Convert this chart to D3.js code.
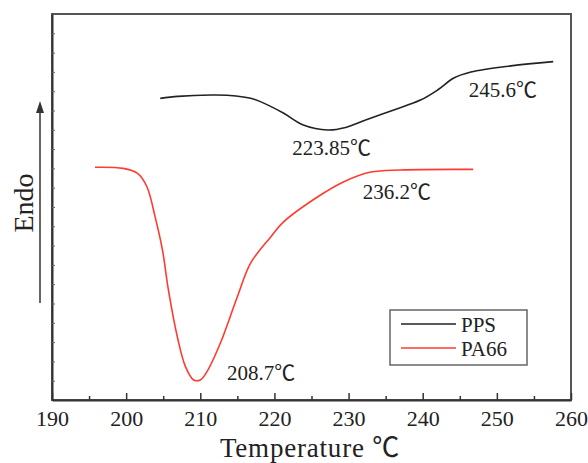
<!DOCTYPE html>
<html>
<head>
<meta charset="utf-8">
<script src="https://cdn.jsdelivr.net/npm/d3@7"></script>
<style>
  body { margin: 0; background: #fff; }
  text { font-family: "Liberation Serif", "Noto Sans CJK SC", serif; fill: #222; }
</style>
</head>
<body>
<div id="chart"></div>
<script>
var w = 588;
var h = 463;
var margin = {top: 14, right: 17, bottom: 63, left: 52};

// DSC traces (temperature in degC, heat flow in arbitrary units)
var ppsTemp = [204.6, 207.0, 211.4, 214.0, 216.8, 218.1, 221.2, 223.9, 227.2, 229.6, 232.3, 236.1, 239.7, 242.0, 244.2, 246.5, 251.9, 257.6];
var ppsFlow = [15.63, 15.73, 15.80, 15.78, 15.63, 15.46, 14.87, 14.25, 13.99, 14.12, 14.51, 15.03, 15.54, 16.06, 16.68, 16.99, 17.31, 17.53];

var pa66Temp = [195.8, 199.6, 201.5, 202.8, 203.9, 204.9, 205.7, 206.9, 208.0, 209.1, 210.0, 210.9, 212.7, 215.0, 216.8, 219.5, 221.2, 225.8, 229.3, 233.0, 237.0, 246.8];
var pa66Flow = [12.06, 12.00, 11.75, 11.05, 9.50, 7.77, 5.70, 3.28, 1.73, 1.04, 1.04, 1.47, 2.94, 5.35, 7.10, 8.45, 9.22, 10.52, 11.30, 11.81, 11.92, 11.95];

var seriesNames = ["PPS", "PA66"];
var seriesColors = ["#222222", "#ff3b30"];

// peak annotations
var noteText = ["223.85℃", "245.6℃", "236.2℃", "208.7℃"];
var noteTemp = [222.4, 246.2, 231.9, 213.6];
var noteFlow = [12.69, 15.70, 10.41, 1.04];

var xTicks = [190, 200, 210, 220, 230, 240, 250, 260];

var svg = d3.select("#chart")
            .append("svg")
            .attr("width", w)
            .attr("height", h);

var xScale = d3.scaleLinear()
        .domain([190, 260])
        .range([margin.left, w - margin.right]);

var yScale = d3.scaleLinear()
        .domain([0, 20])
        .range([h - margin.bottom, margin.top]);

// frame (top / right)
svg.append("rect")
    .attr("x", xScale(190))
    .attr("y", yScale(20))
    .attr("width", xScale(260) - xScale(190))
    .attr("height", yScale(0) - yScale(20))
    .attr("fill", "none")
    .attr("stroke", "#555")
    .attr("stroke-width", 2);

// minor x ticks
svg.append("g")
    .attr("transform", "translate(0," + yScale(0) + ")")
    .call(d3.axisBottom(xScale).tickValues(d3.range(195, 260, 10)).tickSize(-4).tickFormat(""))
    .call(function(g) { g.select(".domain").remove(); })
    .selectAll("line").attr("stroke", "#333").attr("stroke-width", 1.5);

// major x axis
var xAxis = svg.append("g")
    .attr("transform", "translate(0," + yScale(0) + ")")
    .call(d3.axisBottom(xScale).tickValues(xTicks).tickSizeInner(-7).tickSizeOuter(0).tickPadding(10));
xAxis.select(".domain").attr("stroke", "#333").attr("stroke-width", 2);
xAxis.selectAll("line").attr("stroke", "#333").attr("stroke-width", 1.5);
xAxis.selectAll("text")
    .attr("font-size", 22)
    .attr("fill", "#222");

// y axis: small inward ticks, no labels
var yAxis = svg.append("g")
    .attr("transform", "translate(" + xScale(190) + ",0)")
    .call(d3.axisLeft(yScale).tickValues(d3.range(1, 20)).tickSizeInner(-3).tickSizeOuter(0).tickFormat(""));
yAxis.select(".domain").attr("stroke", "#333").attr("stroke-width", 2);
yAxis.selectAll("line").attr("stroke", "#666").attr("stroke-width", 1);

// curves
var line = d3.line()
    .x(function(d) { return xScale(d[0]); })
    .y(function(d) { return yScale(d[1]); })
    .curve(d3.curveCatmullRom);

var data = [d3.zip(ppsTemp, ppsFlow), d3.zip(pa66Temp, pa66Flow)];

svg.selectAll(".trace")
    .data(data)
    .enter()
    .append("path")
    .attr("class", "trace")
    .attr("d", line)
    .attr("fill", "none")
    .attr("stroke", function(d, i) { return seriesColors[i]; })
    .attr("stroke-width", 1.6);

// annotations
svg.selectAll(".note")
    .data(noteText)
    .enter()
    .append("text")
    .attr("class", "note")
    .attr("x", function(d, i) { return xScale(noteTemp[i]); })
    .attr("y", function(d, i) { return yScale(noteFlow[i]); })
    .attr("font-size", 21)
    .text(function(d) { return d; });

// axis title
svg.append("text")
    .attr("x", 310)
    .attr("y", 457)
    .attr("text-anchor", "middle")
    .attr("font-size", 27)
    .attr("letter-spacing", 0.8)
    .text("Temperature ℃");

// Endo label + arrow
svg.append("text")
    .attr("transform", "translate(33,203) rotate(-90)")
    .attr("text-anchor", "middle")
    .attr("font-size", 28)
    .text("Endo");

svg.append("line")
    .attr("x1", 40).attr("x2", 40)
    .attr("y1", 303).attr("y2", 110)
    .attr("stroke", "#333")
    .attr("stroke-width", 1.5);
svg.append("path")
    .attr("d", "M40,101 L36,113 L44,113 Z")
    .attr("fill", "#333");

// legend
var legend = svg.append("g").attr("transform", "translate(390,310)");
legend.append("rect")
    .attr("width", 137)
    .attr("height", 55)
    .attr("fill", "#fff")
    .attr("stroke", "#666")
    .attr("stroke-width", 1.5);

var items = legend.selectAll(".item")
    .data(seriesNames)
    .enter()
    .append("g")
    .attr("class", "item")
    .attr("transform", function(d, i) { return "translate(0," + (14 + i * 24) + ")"; });

items.append("line")
    .attr("x1", 11).attr("x2", 66)
    .attr("stroke", function(d, i) { return seriesColors[i]; })
    .attr("stroke-width", 1.6);

items.append("text")
    .attr("x", 71)
    .attr("y", 8)
    .attr("font-size", 21)
    .text(function(d) { return d; });
</script>
</body>
</html>
